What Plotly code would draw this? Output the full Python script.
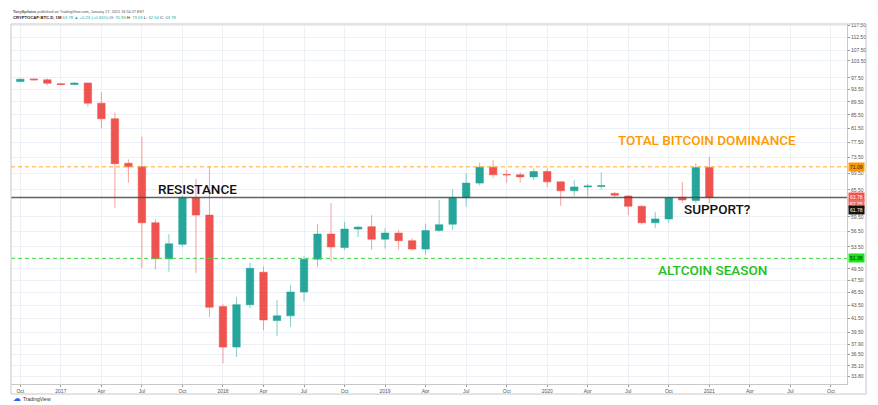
import math
import pandas as pd
import plotly.graph_objects as go

# ---------------- data ----------------
months = [str(p) for p in pd.period_range("2016-09", "2021-01", freq="M")]
open_ = [95.5, 96.2, 97.1, 96.8, 95.5, 95.2, 95.7, 89.1, 84.3, 72.0, 71.1, 58.3, 51.3,
         54.0, 63.7, 59.9, 43.3, 37.5, 43.6, 48.9, 41.2, 41.9, 45.6, 51.2, 56.0, 53.4,
         57.0, 57.5, 55.0, 56.2, 54.7, 53.1, 56.7, 58.0, 63.7, 67.1, 71.0, 69.2, 69.1,
         68.6, 69.9, 67.4, 65.3, 66.2, 66.3, 64.7, 64.1, 61.8, 58.3, 59.1, 63.8, 63.1, 70.93]
high = [96.2, 97.3, 97.3, 97.3, 95.7, 96.0, 95.9, 92.6, 86.2, 73.0, 79.1, 59.0, 56.0,
        64.2, 68.1, 71.3, 43.7, 44.8, 50.6, 49.9, 44.3, 46.7, 51.8, 58.0, 62.5, 58.5,
        57.6, 59.9, 57.2, 56.8, 55.2, 58.1, 63.2, 65.6, 69.5, 72.1, 72.8, 70.3, 69.7,
        70.7, 70.7, 67.6, 67.8, 66.9, 69.7, 65.0, 64.3, 62.0, 60.6, 63.9, 67.4, 72.0, 73.63]
low = [95.3, 95.9, 96.6, 95.0, 95.0, 95.0, 88.0, 81.5, 61.5, 67.2, 49.6, 49.4, 49.0,
       53.5, 48.8, 41.7, 35.4, 36.2, 43.1, 39.8, 39.0, 40.3, 44.1, 49.9, 50.8, 52.9,
       55.4, 53.0, 53.2, 53.0, 52.8, 52.1, 56.5, 56.8, 61.7, 66.5, 68.3, 67.2, 67.2,
       67.8, 66.1, 61.9, 64.1, 64.0, 65.6, 63.9, 59.9, 57.9, 57.2, 58.3, 62.6, 62.5, 62.54]
close = [95.9, 97.0, 96.8, 95.6, 95.2, 95.7, 89.1, 84.3, 71.9, 71.1, 58.3, 51.3, 54.1,
         63.7, 59.9, 43.2, 37.5, 43.6, 49.6, 41.3, 41.9, 45.6, 51.2, 56.0, 53.5, 57.0,
         57.4, 55.0, 56.2, 54.7, 53.1, 56.7, 57.9, 63.7, 67.1, 71.0, 69.1, 69.1, 68.6,
         69.9, 67.4, 65.3, 66.2, 66.4, 66.5, 64.3, 61.8, 58.3, 59.1, 63.7, 63.2, 70.9, 63.78]

tick_months = [str(p) for p in pd.period_range("2016-10", "2021-10", freq="3M")]
tick_labels = ["Oct", "2017", "Apr", "Jul", "Oct", "2018", "Apr", "Jul", "Oct", "2019",
               "Apr", "Jul", "Oct", "2020", "Apr", "Jul", "Oct", "2021", "Apr", "Jul", "Oct"]

price_ticks = [117.50, 112.50, 107.50, 103.50, 97.50, 93.50, 89.50, 85.50, 81.50, 77.50,
               73.50, 69.50, 65.50, 59.50, 56.50, 53.50, 49.50, 47.50, 45.50, 43.50,
               41.50, 39.50, 37.90, 36.50, 35.10, 33.80]

dominance_level = 71.09
support_level = 63.78
altseason_level = 51.38

# ---------------- helpers ----------------
start = pd.Period("2016-09", freq="M")
def idx(m):
    return (pd.Period(m, freq="M") - start).n

x = [idx(m) for m in months]
tickvals = [idx(m) for m in tick_months]

UP = "#26A69A"
DN = "#EF5350"

fig = go.Figure()
fig.add_trace(go.Candlestick(
    x=x, open=open_, high=high, low=low, close=close,
    increasing=dict(fillcolor=UP, line=dict(color="rgba(38,166,154,0.55)", width=1)),
    decreasing=dict(fillcolor=DN, line=dict(color="rgba(239,83,80,0.55)", width=1)),
    hoverinfo="skip", showlegend=False,
))

# horizontal levels
fig.add_hline(y=dominance_level, line=dict(color="#FFA726", width=1, dash="4px,3px"))
fig.add_hline(y=altseason_level, line=dict(color="#3CD93C", width=1, dash="4px,3px"))
fig.add_hline(y=support_level, line=dict(color="rgba(70,70,70,0.85)", width=1.5))

# frame around chart incl. price scale
L, T = 11, 24
PW, PH = 836, 360
def px(xp):
    return (xp - L) / PW
def py(yp):
    return (T + PH - yp) / PH

fig.add_shape(type="rect", xref="paper", yref="paper", x0=0, x1=px(866), y0=py(394), y1=1,
              line=dict(color="#c8c8c8", width=1), fillcolor="rgba(0,0,0,0)", layer="above")

def label(xp, yp, text, size, color, family="Roboto", weight=500, xanchor="center"):
    fig.add_annotation(xref="paper", yref="paper", x=px(xp), y=py(yp), text=text,
                       xanchor=xanchor, yanchor="middle", showarrow=False,
                       font=dict(family=family, size=size, color=color, weight=weight))

label(197, 188.5, "RESISTANCE", 13.5, "#111111")
label(717, 209.5, "SUPPORT?", 13.5, "#111111")
label(707, 140, "TOTAL BITCOIN DOMINANCE", 13.5, "#FF9800")
label(712.8, 269.5, "ALTCOIN SEASON", 13.5, "#22C022")

# price-scale labels
def plabel(yval, text, bg, fg, yref="y"):
    fig.add_annotation(xref="paper", yref=yref, x=px(848), y=yval, text=text,
                       xanchor="left", yanchor="middle",
                       showarrow=False, bgcolor=bg, borderpad=1,
                       font=dict(family="Liberation Sans", size=5, color=fg))

plabel(math.log10(dominance_level), f"{dominance_level:.2f}", "#FF9800", "#222222")
plabel(math.log10(support_level), f"{close[-1]:.2f}", "#EF5350", "#ffffff")
plabel(py(204.3), "62.25", "#F26C6A", "#ffffff", yref="paper")
plabel(py(210.5), "61.78", "#111111", "#ffffff", yref="paper")
plabel(math.log10(altseason_level), f"{altseason_level:.2f}", "#19E619", "#111111")

# header
label(10.5, 12.3, "<b>TonySpilotro</b> published on TradingView.com, January 27, 2021 16:54:27 EST",
      3.8, "#555555", family="Liberation Sans", weight=400, xanchor="left")
label(10.5, 17.5, ("<b>CRYPTOCAP:BTC.D, 1M</b> <span style='color:#26A69A'>63.78 ▲ +0.23 (+0.36%)</span> "
                   "O: <span style='color:#26A69A'>70.93</span> H: <span style='color:#26A69A'>73.63</span> "
                   "L: <span style='color:#26A69A'>62.54</span> C: <span style='color:#26A69A'>63.78</span>"),
      4.2, "#222222", family="Liberation Sans", weight=400, xanchor="left")
# logo
label(11, 398.5, "☁", 8, "#2962FF", family="DejaVu Sans", weight=400, xanchor="left")
label(21, 398.5, "TradingView", 5, "#333333", family="Liberation Sans", weight=400, xanchor="left")

fig.update_layout(
    width=878, height=405,
    margin=dict(l=L, r=878 - L - PW, t=T, b=405 - T - PH),
    paper_bgcolor="white", plot_bgcolor="white",
    boxgap=0.21,
    xaxis=dict(range=[0.31, 62.19], tickvals=tickvals, ticktext=tick_labels,
               showgrid=True, gridcolor="#edf0f6", gridwidth=1,
               showline=True, linecolor="#c8c8c8", linewidth=1,
               ticks="outside", ticklen=2, tickcolor="#999999",
               tickfont=dict(family="Liberation Sans", size=5, color="#555555"),
               rangeslider=dict(visible=False), zeroline=False, fixedrange=True),
    yaxis=dict(type="log", side="right",
               range=[math.log10(32.9), math.log10(118.0)],
               tickvals=price_ticks, ticktext=[f"{v:.2f}" for v in price_ticks],
               showgrid=True, gridcolor="#edf0f6", gridwidth=1,
               showline=True, linecolor="#c8c8c8", linewidth=1,
               ticks="outside", ticklen=2, tickcolor="#999999",
               tickfont=dict(family="Liberation Sans", size=5, color="#555555"),
               zeroline=False, fixedrange=True),
)

fig.write_html("out.html", config={"displayModeBar": False},
               post_script="document.body.style.margin='0px';")
